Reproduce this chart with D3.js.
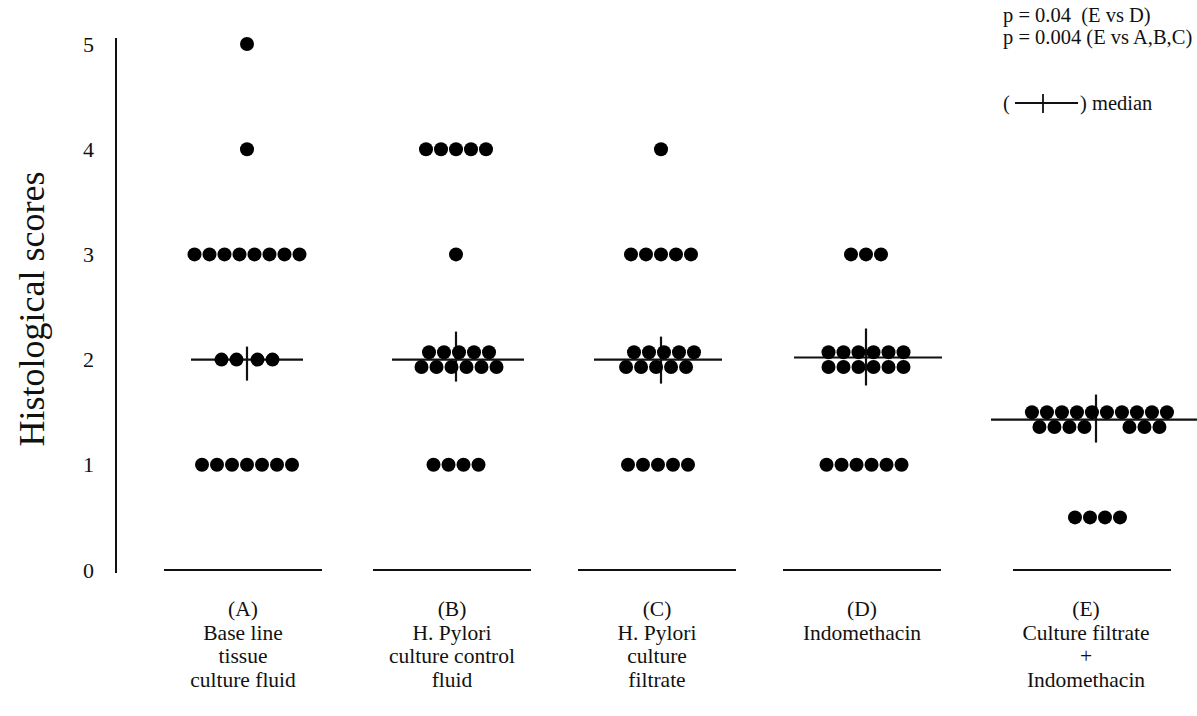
<!DOCTYPE html>
<html>
<head>
<meta charset="utf-8">
<script src="https://cdn.jsdelivr.net/npm/d3@7"></script>
<style>
  html, body { margin: 0; padding: 0; background: #fff; }
  svg { display: block; }
  text { font-family: "Liberation Serif", "DejaVu Serif", serif; fill: #111; }
</style>
</head>
<body>
<svg id="chart" width="1197" height="716"></svg>
<script>
// ---------------- data ----------------
const categories = ["A", "B", "C", "D", "E"];
const categoryLabels = [
  ["(A)", "Base line", "tissue", "culture fluid"],
  ["(B)", "H. Pylori", "culture control", "fluid"],
  ["(C)", "H. Pylori", "culture", "filtrate"],
  ["(D)", "Indomethacin"],
  ["(E)", "Culture filtrate", "+", "Indomethacin"]
];
const yTicks = [0, 1, 2, 3, 4, 5];
const yTitle = "Histological scores";

// each row of dots: group, plotted score, number of dots
const rowGroup = ["A","A","A","A","A", "B","B","B","B","B", "C","C","C","C","C", "D","D","D","D", "E","E","E"];
const rowScore = [5, 4, 3, 2, 1,   4, 3, 2.07, 1.93, 1,   4, 3, 2.07, 1.93, 1,   3, 2.07, 1.93, 1,   1.5, 1.36, 0.5];
const rowCount = [1, 1, 8, 4, 7,   5, 1, 5, 6, 4,         1, 5, 5, 5, 5,         3, 6, 6, 6,         10, 7, 4];

const medians = [2, 2, 2, 2.02, 1.43];

const annotations = ["p = 0.04  (E vs D)", "p = 0.004 (E vs A,B,C)"];
const legendText = ") median";

// ---------------- layout (not data) ----------------
const groupCenter = [247, 456, 661, 866, 1096];
const rowShift   = [0,0,0,0,0,  0,0,0.2,0.2,0,  0,0,0.2,-0.33,-0.2,  0,0,0,-0.13,  0.23,0.23,0.1];
const rowSplitAt = [0,0,0,2,0,  0,0,0,0,0,      0,0,0,0,0,           0,0,0,0,      0,4,0];
const rowGap     = [0,0,0,0.4,0, 0,0,0,0,0,     0,0,0,0,0,           0,0,0,0,      0,2,0];
const medianHalf = [56, 66, 64, 74, 104];
const medianCx   = [247, 458, 658, 868, 1095];
const tickUp     = [13, 28, 23, 29, 25];
const tickDown   = [21, 22, 24, 28, 23];

const W = 1197, H = 716;
const slot = 15, r = 7;

const svg = d3.select("#chart");
svg.append("rect").attr("width", W).attr("height", H).attr("fill", "#fff");

const x = d3.scaleOrdinal().domain(categories).range(groupCenter);
const y = d3.scaleLinear().domain([0, 5]).range([570, 44]);

// y axis
const axisX = 116;
const yAxis = d3.axisLeft(y).tickValues(yTicks).tickSize(0).tickPadding(22).tickFormat(d3.format("d"));
const gAxis = svg.append("g").attr("transform", `translate(${axisX},0)`).call(yAxis);
gAxis.select(".domain").remove();
gAxis.selectAll("text").style("font-family", '"Liberation Serif", serif').style("font-size", "22px").attr("fill", "#111");
svg.append("line")
  .attr("x1", axisX).attr("x2", axisX)
  .attr("y1", y(5) - 6).attr("y2", y(0) + 3)
  .attr("stroke", "#111").attr("stroke-width", 2);

// y title
svg.append("text")
  .attr("transform", `translate(36,${(y(0) + y(5)) / 2 + 2}) rotate(-90)`)
  .attr("text-anchor", "middle")
  .attr("dominant-baseline", "middle")
  .style("font-size", "36px")
  .text(yTitle);

// baselines at 0 per group
svg.selectAll("line.base").data(categories).join("line")
  .attr("class", "base")
  .attr("x1", d => x(d) - 83).attr("x2", d => x(d) + 75)
  .attr("y1", y(0)).attr("y2", y(0))
  .attr("stroke", "#111").attr("stroke-width", 2.2);

// median lines
categories.forEach((c, i) => {
  const ym = y(medians[i]);
  svg.append("line")
    .attr("x1", medianCx[i] - medianHalf[i]).attr("x2", medianCx[i] + medianHalf[i])
    .attr("y1", ym).attr("y2", ym)
    .attr("stroke", "#111").attr("stroke-width", 2.2);
  svg.append("line")
    .attr("x1", x(c)).attr("x2", x(c))
    .attr("y1", ym - tickUp[i]).attr("y2", ym + tickDown[i])
    .attr("stroke", "#111").attr("stroke-width", 2.2);
});

// dots
const dots = [];
rowScore.forEach((v, k) => {
  const n = rowCount[k];
  const cx = x(rowGroup[k]);
  for (let i = 0; i < n; i++) {
    let off = i - (n - 1) / 2 + rowShift[k];
    if (rowGap[k] > 0) off += (i < rowSplitAt[k] ? -rowGap[k] / 2 : rowGap[k] / 2);
    dots.push({ x: cx + off * slot, v });
  }
});
svg.selectAll("circle.dot").data(dots).join("circle")
  .attr("class", "dot")
  .attr("cx", d => d.x)
  .attr("cy", d => y(d.v))
  .attr("r", r)
  .attr("fill", "#000");

// category labels
categories.forEach((c, i) => {
  const t = svg.append("text")
    .attr("text-anchor", "middle")
    .style("font-size", "21.5px");
  categoryLabels[i].forEach((line, j) => {
    t.append("tspan")
      .attr("x", x(c) - (i === 4 ? 10 : 4))
      .attr("y", 616 + j * 23.5)
      .text(line);
  });
});

// annotations
annotations.forEach((a, i) => {
  svg.append("text")
    .attr("x", 1003).attr("y", 22 + i * 22)
    .style("font-size", "20.5px")
    .attr("xml:space", "preserve")
    .style("white-space", "pre")
    .text(a);
});
// median legend
svg.append("text").attr("x", 1003).attr("y", 110).style("font-size", "20.5px").text("(");
svg.append("line").attr("x1", 1015).attr("x2", 1078).attr("y1", 103).attr("y2", 103)
  .attr("stroke", "#111").attr("stroke-width", 1.8);
svg.append("line").attr("x1", 1043).attr("x2", 1043).attr("y1", 94).attr("y2", 113)
  .attr("stroke", "#111").attr("stroke-width", 1.8);
svg.append("text").attr("x", 1080).attr("y", 110).style("font-size", "20.5px").text(legendText);
</script>
</body>
</html>
